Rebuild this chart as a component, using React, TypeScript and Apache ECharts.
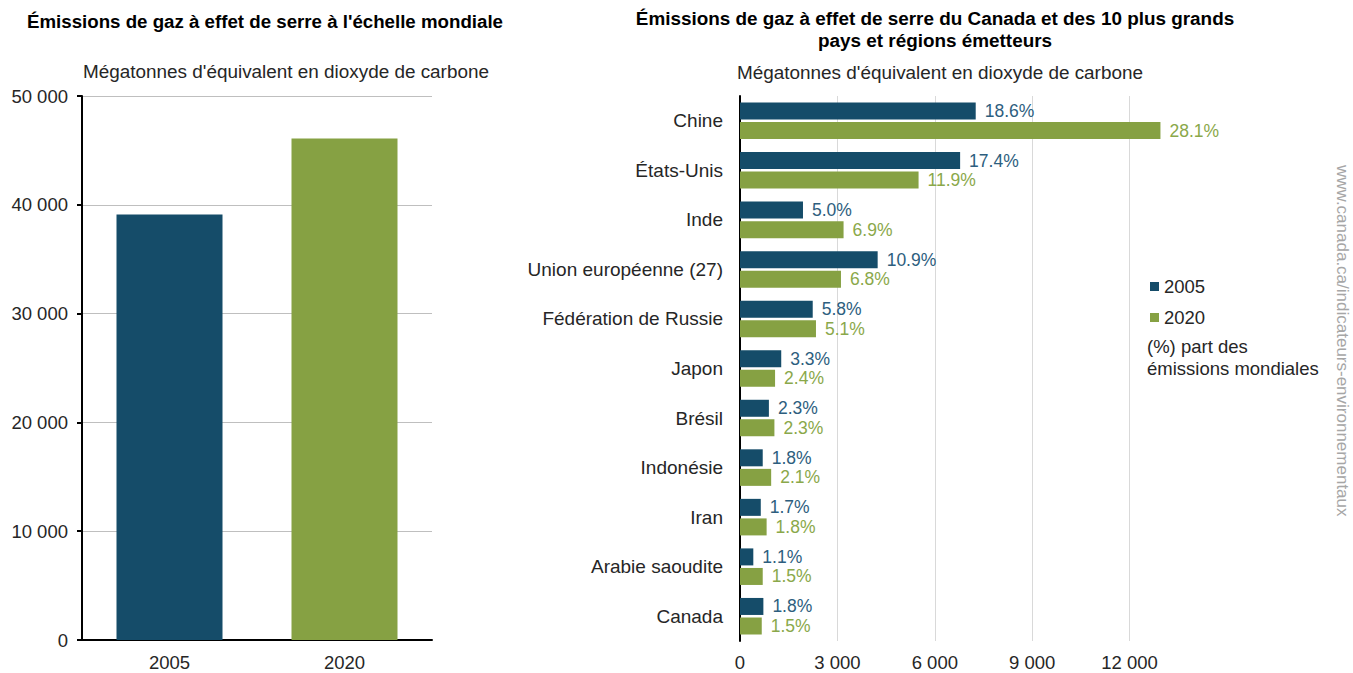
import React, { useEffect, useRef } from "react";
import * as echarts from "echarts";

const worldYears = ["2005", "2020"];
const worldValues = [39100, 46100];
const worldTicks = [0, 10000, 20000, 30000, 40000, 50000];

const countries = [
  "Chine",
  "États-Unis",
  "Inde",
  "Union européenne (27)",
  "Fédération de Russie",
  "Japon",
  "Brésil",
  "Indonésie",
  "Iran",
  "Arabie saoudite",
  "Canada",
];
const values2005 = [7260, 6780, 1940, 4240, 2240, 1270, 890, 700, 640, 410, 720];
const values2020 = [12950, 5500, 3190, 3110, 2340, 1080, 1060, 960, 820, 700, 670];
const share2005 = ["18.6%", "17.4%", "5.0%", "10.9%", "5.8%", "3.3%", "2.3%", "1.8%", "1.7%", "1.1%", "1.8%"];
const share2020 = ["28.1%", "11.9%", "6.9%", "6.8%", "5.1%", "2.4%", "2.3%", "2.1%", "1.8%", "1.5%", "1.5%"];
const countryTicks = [0, 3000, 6000, 9000, 12000];

const DARK = "#154c69";
const GREEN = "#86a143";
const FONT = "'Liberation Sans', Arial, sans-serif";
const TXT = "#262626";

const fmt = (v: number) => String(v).replace(/\B(?=(\d{3})+(?!\d))/g, " ");

export default function App() {
  const ref = useRef<HTMLDivElement>(null);
  useEffect(() => {
    if (!ref.current) return;
    const chart = echarts.init(ref.current, undefined, { renderer: "svg" });
    chart.setOption({
      animation: false,
      textStyle: { fontFamily: FONT },
      legend: {
        data: ["2005", "2020"],
        orient: "vertical",
        left: 1145,
        top: 272,
        itemWidth: 9,
        itemHeight: 9,
        itemGap: 12,
        icon: "rect",
        textStyle: { fontSize: 18.5, color: TXT, fontFamily: FONT },
        selectedMode: false,
      },
      grid: [
        { left: 82, right: 921, top: 96, bottom: 33, containLabel: false },
        { left: 740, right: 126, top: 96, bottom: 32, containLabel: false },
      ],
      xAxis: [
        {
          gridIndex: 0,
          type: "category",
          data: worldYears,
          axisLine: { lineStyle: { color: "#000", width: 2 } },
          axisTick: { show: false },
          axisLabel: { fontSize: 18.5, color: TXT, margin: 13, fontFamily: FONT },
        },
        {
          gridIndex: 1,
          type: "value",
          min: 0,
          max: 15000,
          interval: 3000,
          axisLine: { show: false },
          axisTick: { show: false },
          axisLabel: {
            fontSize: 18.5,
            color: TXT,
            margin: 12,
            fontFamily: FONT,
            formatter: (v: number) => (countryTicks.includes(v) ? fmt(v) : ""),
          },
          splitLine: {
            lineStyle: {
              color: ["transparent", "#d9d9d9", "#d9d9d9", "#d9d9d9", "#d9d9d9", "transparent"],
              width: 1,
            },
          },
        },
      ],
      yAxis: [
        {
          gridIndex: 0,
          type: "value",
          min: 0,
          max: 50000,
          interval: 10000,
          axisLine: { show: true, lineStyle: { color: "#000", width: 2 } },
          axisTick: { show: true, length: 5, lineStyle: { color: "#000", width: 2 } },
          axisLabel: {
            fontSize: 18.5,
            color: TXT,
            margin: 14,
            fontFamily: FONT,
            formatter: (v: number) => (worldTicks.includes(v) ? fmt(v) : ""),
          },
          splitLine: { lineStyle: { color: "#bfbfbf", width: 1 } },
        },
        {
          gridIndex: 1,
          type: "category",
          inverse: true,
          data: countries,
          axisLine: { show: true, lineStyle: { color: "#000", width: 2 } },
          axisTick: { show: false },
          axisLabel: { fontSize: 19, color: TXT, margin: 17, fontFamily: FONT },
        },
      ],
      series: [
        {
          name: "Monde",
          type: "bar",
          xAxisIndex: 0,
          yAxisIndex: 0,
          barWidth: 106,
          data: worldValues.map((v, i) => ({ value: v, itemStyle: { color: i === 0 ? DARK : GREEN } })),
        },
        {
          name: "2005",
          type: "bar",
          xAxisIndex: 1,
          yAxisIndex: 1,
          barWidth: 17,
          barGap: "15%",
          itemStyle: { color: DARK },
          data: values2005,
          label: {
            show: true,
            position: "right",
            distance: 9,
            fontSize: 17.5,
            color: "#2d5e7e",
            fontFamily: FONT,
            formatter: (p: any) => share2005[p.dataIndex],
          },
        },
        {
          name: "2020",
          type: "bar",
          xAxisIndex: 1,
          yAxisIndex: 1,
          barWidth: 17,
          barGap: "15%",
          itemStyle: { color: GREEN },
          data: values2020,
          label: {
            show: true,
            position: "right",
            distance: 9,
            fontSize: 17.5,
            color: "#8aa84a",
            fontFamily: FONT,
            formatter: (p: any) => share2020[p.dataIndex],
          },
        },
      ],
      graphic: [
        {
          type: "text",
          x: 27,
          y: 21,
          style: {
            text: "Émissions de gaz à effet de serre à l'échelle mondiale",
            font: `bold 18.7px ${FONT}`,
            fill: "#000",
            textAlign: "left",
            textVerticalAlign: "middle",
          },
        },
        {
          type: "text",
          x: 286,
          y: 71,
          style: {
            text: "Mégatonnes d'équivalent en dioxyde de carbone",
            font: `18.9px ${FONT}`,
            fill: TXT,
            textAlign: "center",
            textVerticalAlign: "middle",
          },
        },
        {
          type: "text",
          x: 935,
          y: 18,
          style: {
            text: "Émissions de gaz à effet de serre du Canada et des 10 plus grands",
            font: `bold 18.9px ${FONT}`,
            fill: "#000",
            textAlign: "center",
            textVerticalAlign: "middle",
          },
        },
        {
          type: "text",
          x: 935,
          y: 40,
          style: {
            text: "pays et régions émetteurs",
            font: `bold 18.9px ${FONT}`,
            fill: "#000",
            textAlign: "center",
            textVerticalAlign: "middle",
          },
        },
        {
          type: "text",
          x: 940,
          y: 72,
          style: {
            text: "Mégatonnes d'équivalent en dioxyde de carbone",
            font: `18.9px ${FONT}`,
            fill: TXT,
            textAlign: "center",
            textVerticalAlign: "middle",
          },
        },
        {
          type: "text",
          x: 1147,
          y: 335,
          style: {
            text: "(%) part des\némissions mondiales",
            font: `18.5px ${FONT}`,
            fill: TXT,
            lineHeight: 22,
          },
        },
        {
          type: "text",
          x: 1342,
          y: 165,
          rotation: -Math.PI / 2,
          style: {
            text: "www.canada.ca/indicateurs-environnementaux",
            font: `17px ${FONT}`,
            fill: "#a6a6a6",
            textAlign: "left",
            textVerticalAlign: "middle",
          },
        },
      ],
    });
    return () => chart.dispose();
  }, []);
  return (
    <div
      ref={ref}
      style={{ position: "fixed", left: 0, top: 0, width: 1353, height: 673, background: "#fff" }}
    />
  );
}
